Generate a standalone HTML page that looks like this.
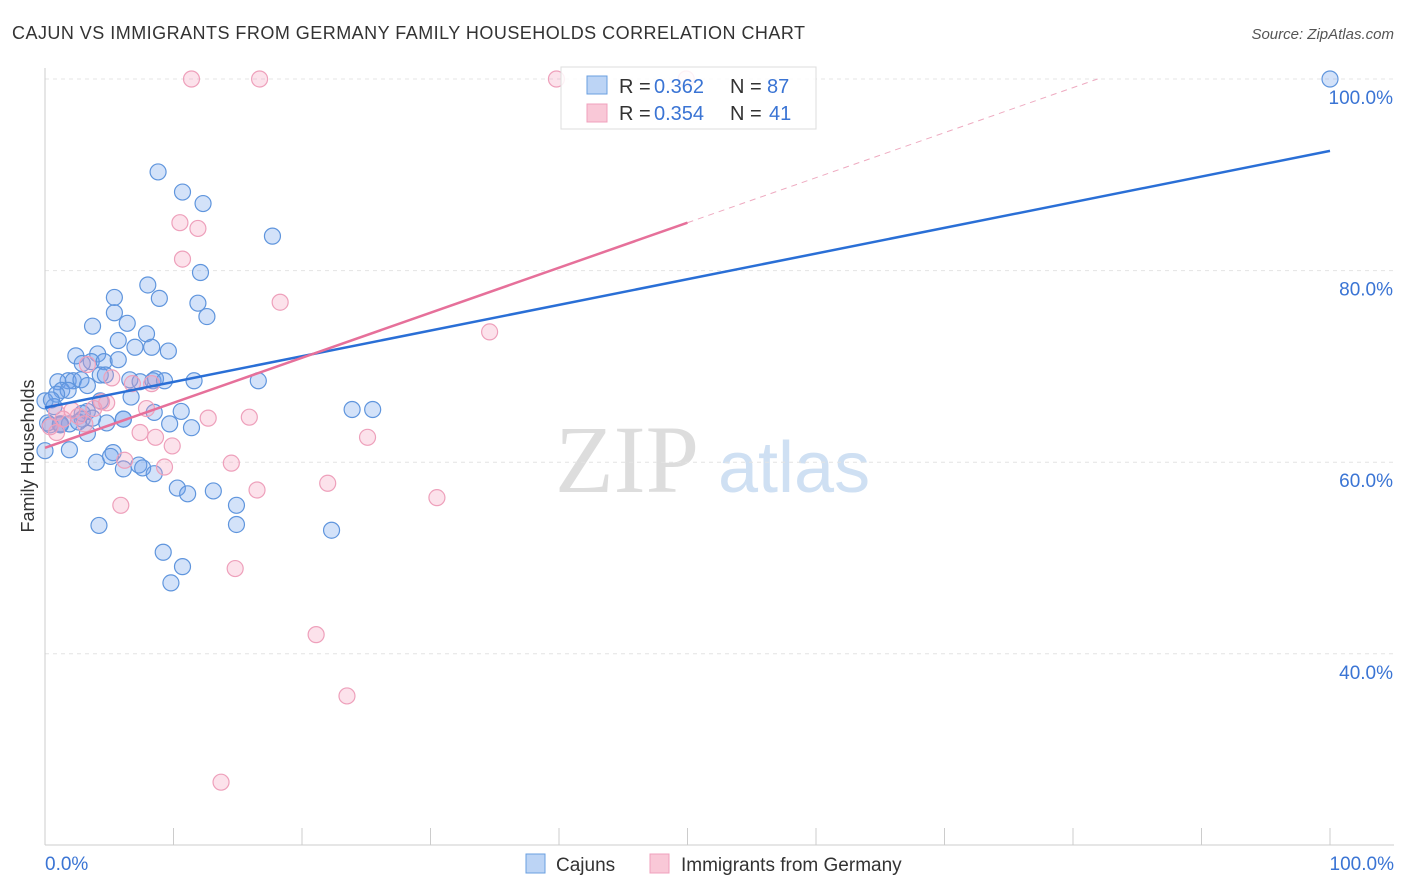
<!DOCTYPE html>
<html><head><meta charset="utf-8"><style>
body{margin:0;background:#fff;font-family:"Liberation Sans",sans-serif}
svg{display:block}
</style></head><body>
<svg id="chart" width="1406" height="892">
<text x="12" y="39" font-size="18" fill="#333" textLength="793">CAJUN VS IMMIGRANTS FROM GERMANY FAMILY HOUSEHOLDS CORRELATION CHART</text>
<text x="1394" y="39" font-size="15" fill="#555" font-style="italic" text-anchor="end">Source: ZipAtlas.com</text>
<text x="34" y="456" font-size="18" fill="#333" transform="rotate(-90 34 456)" text-anchor="middle">Family Households</text>
<text x="555" y="492" font-size="96" fill="#ddd" font-family="Liberation Serif">ZIP</text>
<text x="718" y="492" font-size="72" fill="#cfe0f3">atlas</text>
<g id="grid"></g><g id="pts"></g><g id="trend"></g>
<g>
<rect x="561" y="67" width="255" height="62" fill="rgba(255,255,255,0.85)" stroke="#ddd"/>
<rect x="587" y="76" width="20" height="18" fill="#bcd4f5" stroke="#6a9fe0"/>
<text x="619" y="93" font-size="20" fill="#333">R =</text>
<text x="654" y="93" font-size="20" fill="#3a74d4">0.362</text>
<text x="730" y="93" font-size="20" fill="#333">N =</text>
<text x="767" y="93" font-size="20" fill="#3a74d4">87</text>
<rect x="587" y="104" width="20" height="18" fill="#f9c8d7" stroke="#f0a0bc"/>
<text x="619" y="120" font-size="20" fill="#333">R =</text>
<text x="654" y="120" font-size="20" fill="#3a74d4">0.354</text>
<text x="730" y="120" font-size="20" fill="#333">N =</text>
<text x="769" y="120" font-size="20" fill="#3a74d4">41</text>
</g>
<g>
<rect x="526" y="854" width="19" height="19" fill="#bcd4f5" stroke="#6a9fe0"/>
<text x="556" y="871" font-size="19" fill="#333">Cajuns</text>
<rect x="650" y="854" width="19" height="19" fill="#f9c8d7" stroke="#f0a0bc"/>
<text x="681" y="871" font-size="19" fill="#333">Immigrants from Germany</text>
</g>
</svg>
<script>
const yTicks=[100,80,60,40];
const xTickLabels=["0.0%","100.0%"];
const blueX=[100,8.8,10.7,12.3,17.7,12.1,8.0,5.4,8.9,11.9,5.4,12.6,3.7,6.4,7.9,5.7,7.0,8.3,9.6,2.4,4.1,3.6,4.6,5.7,2.9,4.3,4.7,1.8,1.0,2.2,2.8,3.3,6.6,7.4,8.4,8.6,9.3,11.6,16.6,1.3,1.8,0.9,0,0.7,0.5,4.3,6.7,3.3,2.9,8.5,10.6,23.9,25.5,1.2,1.9,0.2,2.9,3.7,4.8,6.1,9.7,11.4,3.3,1.9,0,4.0,5.3,5.1,7.3,7.6,6.1,8.5,10.3,11.1,13.1,14.9,4.2,14.9,22.3,9.2,10.7,9.8,1.2,2.6,0.4,1.2,6.1];
const blueY=[100,90.3,88.2,87.0,83.6,79.8,78.5,77.2,77.1,76.6,75.6,75.2,74.2,74.5,73.4,72.7,72.0,72.0,71.6,71.1,71.3,70.5,70.5,70.7,70.3,69.1,69.1,68.5,68.4,68.5,68.6,68.0,68.6,68.4,68.5,68.7,68.5,68.5,68.5,67.5,67.5,67.1,66.4,65.8,66.5,66.4,66.8,65.3,65.1,65.2,65.3,65.5,65.5,64.0,64.0,64.1,64.5,64.6,64.1,64.5,64.0,63.6,63.0,61.3,61.2,60.0,61.0,60.6,59.7,59.4,59.3,58.8,57.3,56.7,57.0,55.5,53.4,53.5,52.9,50.6,49.1,47.4,64.0,64.2,63.9,63.9,64.5];
const pinkX=[11.4,16.7,39.8,49.9,10.5,11.9,10.7,18.3,34.6,5.2,6.8,8.3,3.3,4.4,4.8,3.8,7.9,0.9,2.6,0.4,0.9,7.4,8.6,9.9,12.7,15.9,25.1,14.5,9.3,6.2,22.0,16.5,30.5,5.9,14.8,21.1,23.5,13.7,2.1,3.1,1.4];
const pinkY=[100,100,100,100,85.0,84.4,81.2,76.7,73.6,68.8,68.2,68.2,70.2,66.3,66.2,65.6,65.6,65.2,64.8,63.7,63.1,63.1,62.6,61.7,64.6,64.7,62.6,59.9,59.5,60.2,57.8,57.1,56.3,55.5,48.9,42.0,35.6,26.6,65.4,64.0,64.5];
const blueLine=[65.7,92.5];
const pinkLine=[61.5,85.0];
const X=v=>45+v*12.85, Y=v=>79+(100-v)*9.58;
const NS="http://www.w3.org/2000/svg";
function mk(t,a,p){const e=document.createElementNS(NS,t);for(const k in a)e.setAttribute(k,a[k]);p.appendChild(e);return e;}
const grid=document.getElementById('grid');
yTicks.forEach(v=>{
 const l=mk('line',{x1:45,x2:1394,y1:Y(v),y2:Y(v),stroke:'#e4e4e4','stroke-dasharray':'4 4'},grid);
 
 
 const t=mk('text',{x:1393,y:Y(v)+25,'font-size':19,fill:'#3a74d4','text-anchor':'end'},grid);
 t.textContent=v.toFixed(1)+'%';
 
 
});
mk('line',{x1:45,x2:45,y1:68,y2:845,stroke:'#ccc'},grid);
mk('line',{x1:45,x2:1394,y1:845,y2:845,stroke:'#ccc'},grid);
for(let i=0;i<=10;i++){const tk=mk('line',{x1:X(i*10),x2:X(i*10),y1:828,y2:845,stroke:'#ccc'},grid);
 
 }
[[0,45,'start'],[1,1394,'end']].forEach(([i,x,a])=>{const t=mk('text',{x:x,y:870,'font-size':19,fill:'#3a74d4','text-anchor':a},grid);t.textContent=xTickLabels[i];
 
 });
const pts=document.getElementById('pts');
blueX.forEach((x,i)=>{const c=mk('circle',{cx:X(x),cy:Y(blueY[i]),r:8,fill:'rgba(110,160,235,0.3)',stroke:'#5f95dd','stroke-width':1.2},pts);
 
 });
pinkX.forEach((x,i)=>{const c=mk('circle',{cx:X(x),cy:Y(pinkY[i]),r:8,fill:'rgba(245,160,190,0.3)',stroke:'#eea0bb','stroke-width':1.2},pts);
 
 });
const tr=document.getElementById('trend');
const bl=mk('line',{x1:X(0),y1:Y(blueLine[0]),x2:X(100),y2:Y(blueLine[1]),stroke:'#2a6fd6','stroke-width':2.5},tr);


const pl=mk('line',{x1:X(0),y1:Y(pinkLine[0]),x2:X(50),y2:Y(pinkLine[1]),stroke:'#e6709a','stroke-width':2.5},tr);


const slope=(pinkLine[1]-pinkLine[0])/50, xe=(100-pinkLine[0])/slope;
const pd=mk('line',{x1:X(50),y1:Y(pinkLine[1]),x2:X(xe),y2:Y(100),stroke:'#eeaac0','stroke-width':1,'stroke-dasharray':'6 5'},tr);


</script>
</body></html>
